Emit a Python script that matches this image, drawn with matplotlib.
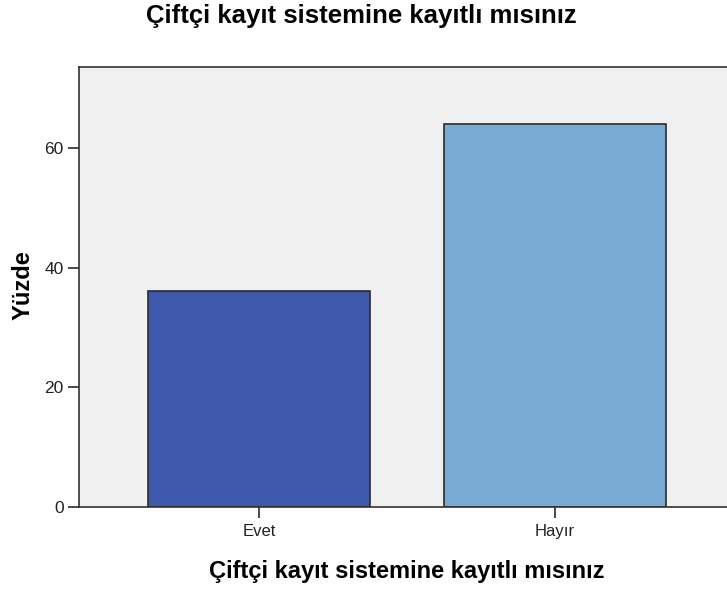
import matplotlib
matplotlib.use("Agg")
import matplotlib.pyplot as plt

plt.rcParams['font.family'] = ['Liberation Sans', 'DejaVu Sans']

categories = ['Evet', 'Hayır']
percents = [36.1, 63.9]
colors = ['#3e58ac', '#7aaad6']
title = 'Çiftçi kayıt sistemine kayıtlı mısınız'

W, H = 727, 591
fig = plt.figure(figsize=(W / 100, H / 100), dpi=100)
# plot area in pixel coords (left, top, right, bottom); right edge runs past the image
l, t, r, b = 79, 67, 735, 507
ax = fig.add_axes([l / W, 1 - b / H, (r - l) / W, (b - t) / H])
ax.set_facecolor('#f0f0f0')

x = list(range(len(categories)))
ax.bar(x, percents, width=0.75, color=colors, edgecolor='#2b2b2b', linewidth=1.2, zorder=2)

ax.set_xlim(-0.61, 1.61)
ax.set_ylim(0, 73.5)
ax.set_yticks([0, 20, 40, 60])
ax.set_xticks(x)
ax.set_xticklabels(categories)
ax.tick_params(axis='both', direction='out', length=8, width=1.2, color='#2b2b2b',
               labelcolor='#222222')
ax.tick_params(axis='y', labelsize=12.5, pad=3)
ax.tick_params(axis='x', labelsize=12, pad=4)
for s in ax.spines.values():
    s.set_color('#333333')
    s.set_linewidth(1.2)

# title and axis titles placed by pixel position
fig.text(361 / W, 1 - 23 / H, title, ha='center', va='baseline', fontsize=18.5, fontweight='bold')
fig.text(407 / W, 1 - 578 / H, title, ha='center', va='baseline', fontsize=17, fontweight='bold')
fig.text(23 / W, 1 - 285 / H, 'Yüzde', ha='center', va='center', rotation=90,
         fontsize=17, fontweight='bold')

fig.savefig('out.png', dpi=100)
